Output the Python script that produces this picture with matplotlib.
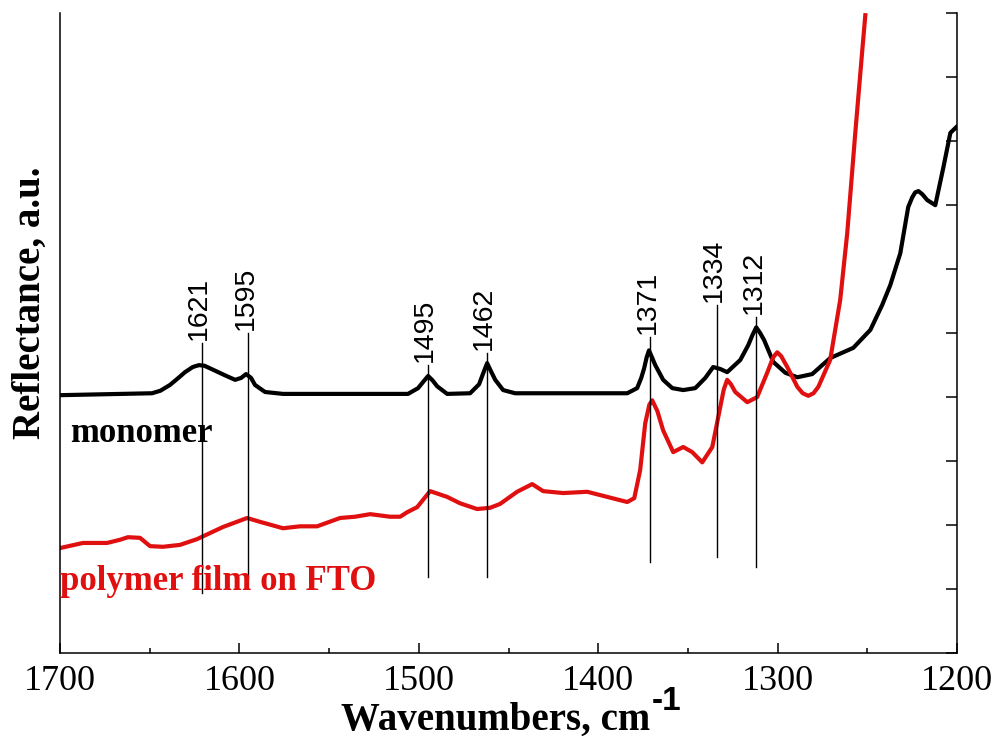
import matplotlib.pyplot as plt
from matplotlib.ticker import MultipleLocator

plt.switch_backend('Agg')

# monomer spectrum (wavenumber, reflectance a.u.)
mono_wn = [1700, 1648.7, 1644.0, 1638.7, 1634.0, 1630.3, 1626.0, 1622.5, 1619.5, 1616.4,
           1608.0, 1602.4, 1599.0, 1596.3, 1593.5, 1591.3, 1585.7, 1575.7, 1506.0, 1500.4,
           1497.5, 1494.8, 1492.3, 1489.8, 1484.2, 1471.4, 1466.4, 1464.0, 1461.9, 1459.7,
           1457.4, 1453.0, 1446.3, 1383.8, 1378.3, 1376.0, 1374.4, 1373.0, 1371.7, 1370.0,
           1368.2, 1363.8, 1358.7, 1352.6, 1345.9, 1340.3, 1335.9, 1332.0, 1328.1, 1320.8,
           1316.4, 1314.0, 1311.9, 1309.7, 1307.5, 1302.4, 1295.7, 1289.0, 1280.7, 1270.7,
           1257.8, 1248.3, 1241.7, 1237.2, 1231.6, 1227.2, 1225.0, 1223.3, 1221.5, 1219.3,
           1216.6, 1212.1, 1207.6, 1203.7, 1200.4]
mono_r = [4.03, 4.06, 4.10, 4.19, 4.30, 4.39, 4.47, 4.50, 4.49, 4.45,
          4.34, 4.27, 4.30, 4.36, 4.30, 4.19, 4.08, 4.05, 4.05, 4.14,
          4.24, 4.33, 4.26, 4.17, 4.05, 4.06, 4.20, 4.38, 4.53, 4.40,
          4.27, 4.11, 4.06, 4.06, 4.14, 4.30, 4.45, 4.62, 4.73, 4.62,
          4.50, 4.27, 4.14, 4.11, 4.14, 4.30, 4.47, 4.44, 4.39, 4.58,
          4.81, 4.97, 5.09, 5.00, 4.89, 4.55, 4.38, 4.31, 4.36, 4.61,
          4.77, 5.05, 5.44, 5.75, 6.25, 6.97, 7.12, 7.20, 7.22, 7.17,
          7.08, 7.00, 7.59, 8.13, 8.22]

# polymer film on FTO spectrum
poly_wn = [1700, 1687.2, 1673.8, 1666.5, 1662.1, 1655.4, 1649.8, 1642.6, 1633.1, 1623.6,
           1609.1, 1595.7, 1588.5, 1575.7, 1566.2, 1556.7, 1543.9, 1535.5, 1527.1, 1516.0,
           1510.4, 1506.5, 1500.9, 1493.7, 1484.2, 1477.0, 1467.5, 1460.2, 1454.7, 1445.2,
           1436.8, 1430.7, 1419.5, 1406.1, 1395.0, 1383.8, 1379.9, 1376.6, 1373.8, 1371.5,
           1369.9, 1367.0, 1363.8, 1358.2, 1352.6, 1347.6, 1342.0, 1336.4, 1332.0, 1330.0,
           1328.1, 1326.0, 1323.6, 1316.9, 1311.4, 1305.8, 1302.5, 1300.2, 1298.0, 1294.6,
           1289.0, 1286.0, 1282.9, 1280.0, 1277.3, 1270.7, 1265.1, 1261.2, 1256.7, 1252.8,
           1251.1]
poly_r = [1.64, 1.72, 1.72, 1.77, 1.81, 1.80, 1.67, 1.66, 1.69, 1.78,
          1.97, 2.11, 2.05, 1.95, 1.98, 1.98, 2.11, 2.13, 2.17, 2.13,
          2.13, 2.20, 2.28, 2.53, 2.44, 2.34, 2.25, 2.27, 2.33, 2.52,
          2.64, 2.53, 2.50, 2.52, 2.44, 2.36, 2.42, 2.86, 3.59, 3.88,
          3.95, 3.78, 3.48, 3.14, 3.22, 3.14, 2.98, 3.22, 3.84, 4.12,
          4.27, 4.20, 4.08, 3.92, 4.00, 4.38, 4.62, 4.70, 4.64, 4.47,
          4.16, 4.06, 4.02, 4.06, 4.16, 4.58, 5.52, 6.56, 8.13, 9.42,
          9.97]

# peak markers: label, line top, line bottom
peak_labels = [1621, 1595, 1495, 1462, 1371, 1334, 1312]
peak_top = [4.84, 5.00, 4.50, 4.69, 4.94, 5.44, 5.25]
peak_bottom = [0.94, 1.19, 1.19, 1.19, 1.42, 1.50, 1.34]

serif = 'Liberation Serif'
sans = 'Liberation Sans'
red = '#e01010'

fig = plt.figure(figsize=(10, 7.37), dpi=100)
ax = fig.add_axes([0.06, 0.114, 0.897, 0.868])

ax.plot(mono_wn, mono_r, color='black', linewidth=3, solid_joinstyle='round')
ax.plot(poly_wn, poly_r, color=red, linewidth=3, solid_joinstyle='round')

for wn, top, bot in zip(peak_labels, peak_top, peak_bottom):
    ax.plot([wn, wn], [bot, top], color='black', linewidth=1.0)
    ax.text(wn + 1.5, top + 0.05, str(wn), rotation=90, ha='center', va='bottom',
            fontsize=20.5, family=sans)

ax.text(1694.5, 3.30, 'monomer', fontsize=25, family=serif, fontweight='bold',
        va='baseline', ha='left')
ax.text(1700, 0.98, 'polymer film on FTO', fontsize=25, family=serif,
        fontweight='bold', color=red, va='baseline', ha='left')

ax.set_xlim(1700, 1200)
ax.set_ylim(0, 10)
ax.xaxis.set_major_locator(MultipleLocator(100))
ax.xaxis.set_minor_locator(MultipleLocator(50))
ax.yaxis.set_major_locator(MultipleLocator(1))
ax.spines['top'].set_visible(False)
for s in ['left', 'right', 'bottom']:
    ax.spines[s].set_linewidth(1.1)
ax.tick_params(axis='x', which='major', direction='in', length=7, width=1.1, pad=9,
               labelsize=26)
ax.tick_params(axis='x', which='minor', direction='in', length=3.5, width=1.1)
ax.tick_params(axis='y', which='both', direction='in', length=8, width=1.1,
               left=False, right=True, labelleft=False, labelright=False)
for lbl in ax.get_xticklabels():
    lbl.set_family(serif)

fig.text(0.65, 0.0095, 'Wavenumbers, cm', fontsize=28, family=serif,
         fontweight='bold', ha='right', va='baseline')
fig.text(0.652, 0.0366, '-1', fontsize=24, family=sans, fontweight='bold',
         ha='left', va='baseline')
fig.text(0.03, 0.589, 'Reflectance, a.u.', fontsize=28, family=serif,
         fontweight='bold', rotation=90, ha='center', va='center')

plt.savefig('out.png', dpi=100)
